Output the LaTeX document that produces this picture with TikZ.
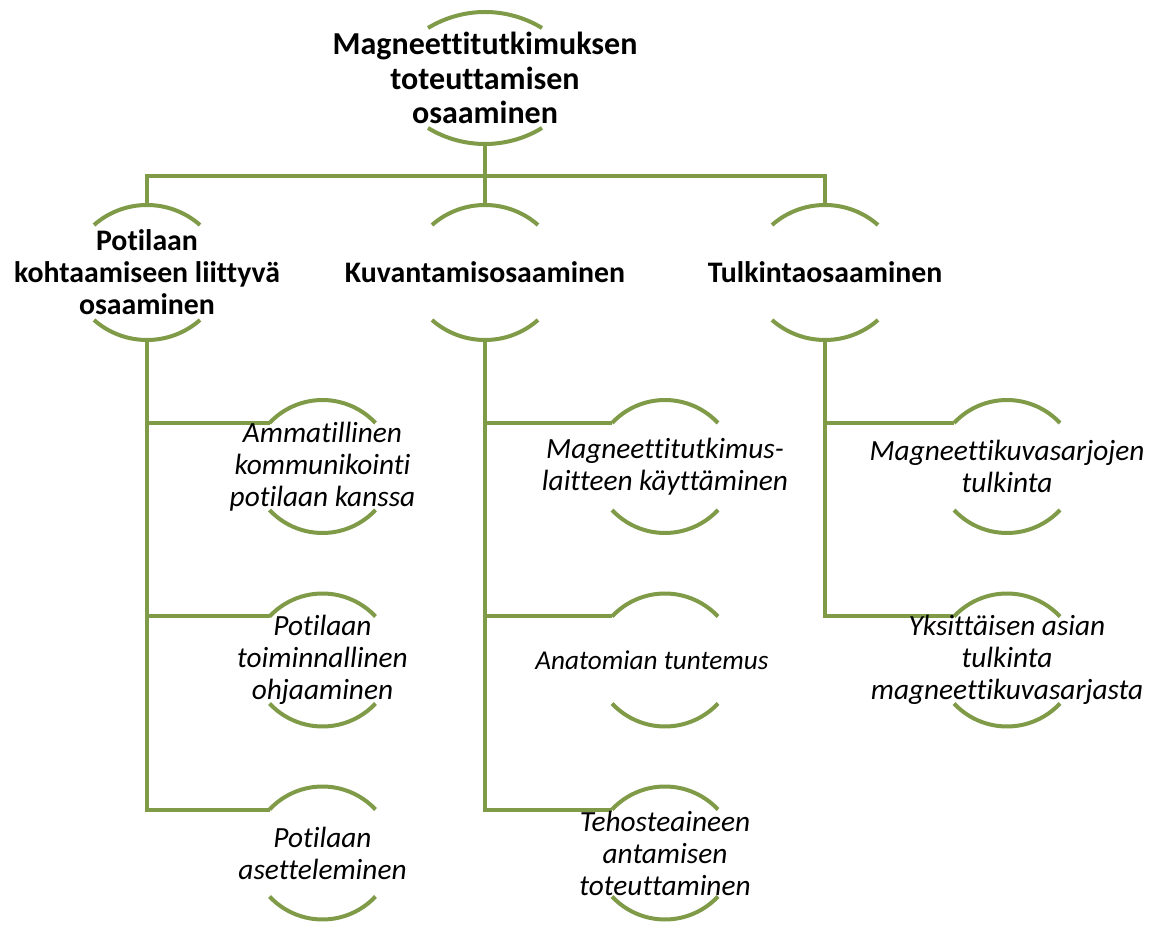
\documentclass[tikz,border=0pt]{standalone}
\usepackage{fontspec}
\setmainfont{Carlito}[Ligatures=NoCommon]
\definecolor{olive}{RGB}{127,155,72}
\tikzset{
  arcline/.style={draw=olive, line width=4pt},
  conn/.style={draw=olive, line width=4pt},
  rootbox/.style={align=center, inner sep=0pt, font=\fontsize{32}{34.5}\selectfont\bfseries},
  midbox/.style={align=center, inner sep=0pt, font=\fontsize{29.8}{32}\selectfont\bfseries},
  leafbox/.style={align=center, inner sep=0pt, font=\fontsize{29.3}{32}\selectfont\itshape},
  smallleaf/.style={align=center, inner sep=0pt, font=\fontsize{27.2}{30}\selectfont\itshape},
}
% #1 name, #2 cx, #3 cy (y up), #4 half chord, #5 apex offset, #6 sagitta
\newcommand\arcpair[6]{%
  \pgfmathsetmacro\rr{(#4*#4+#6*#6)/(2*#6)}%
  \pgfmathsetmacro\th{asin(#4/\rr)}%
  \coordinate (#1-c) at (#2,#3);
  \coordinate (#1-top) at (#2,#3+#5);
  \coordinate (#1-bot) at (#2,#3-#5);
  \coordinate (#1-tl) at (#2-#4,#3+#5-#6);
  \coordinate (#1-bl) at (#2-#4,#3-#5+#6);
  \draw[arcline] (#1-tl) arc[start angle=90+\th, end angle=90-\th, radius=\rr pt];
  \draw[arcline] (#1-bl) arc[start angle=270-\th, end angle=270+\th, radius=\rr pt];
}
\begin{document}
\begin{tikzpicture}[x=1pt,y=1pt]
\fill[white] (0,0) rectangle (1159,924);
\useasboundingbox (0,0) rectangle (1159,924);
% shapes (y up: Y = 924 - py)
\arcpair{root}{485}{846}{57}{66}{16}
\arcpair{pa}{147}{651.5}{53}{67.5}{20}
\arcpair{ku}{485}{651.5}{53}{67.5}{20}
\arcpair{tu}{825}{651.5}{53}{67.5}{20}
\arcpair{am}{322.5}{457.5}{53}{66.5}{23}
\arcpair{to}{322.5}{264}{53}{66.5}{23}
\arcpair{as}{322.5}{71}{53}{66.5}{23}
\arcpair{ma}{665}{457.5}{53}{66.5}{23}
\arcpair{an}{665}{264}{53}{66.5}{23}
\arcpair{te}{665}{71}{53}{66.5}{23}
\arcpair{mk}{1007}{457.5}{53}{66.5}{23}
\arcpair{yk}{1007}{264}{53}{66.5}{23}
% connectors
\coordinate (bar) at (485,748);
\draw[conn] (root-bot) -- (bar);
\draw[conn] (bar) -| (pa-top);
\draw[conn] (bar) -| (tu-top);
\draw[conn] (bar) -- (ku-top);
\draw[conn] (pa-bot) |- (am-tl);
\draw[conn] (pa-bot) |- (to-tl);
\draw[conn] (pa-bot) |- (as-tl);
\draw[conn] (ku-bot) |- (ma-tl);
\draw[conn] (ku-bot) |- (an-tl);
\draw[conn] (ku-bot) |- (te-tl);
\draw[conn] (tu-bot) |- (mk-tl);
\draw[conn] (tu-bot) |- (yk-tl);
% texts
\node[rootbox] (root) at (root-c) {Magneettitutkimuksen\\toteuttamisen\\osaaminen};
\node[midbox] (pa) at (pa-c) {Potilaan\\kohtaamiseen liittyvä\\osaaminen};
\node[midbox] (ku) at (ku-c) {Kuvantamisosaaminen};
\node[midbox] (tu) at (tu-c) {Tulkintaosaaminen};
\node[leafbox] (am) at (am-c) {Ammatillinen\\kommunikointi\\potilaan kanssa};
\node[leafbox] (to) at (to-c) {Potilaan\\toiminnallinen\\ohjaaminen};
\node[leafbox] (as) at (as-c) {Potilaan\\asetteleminen};
\node[leafbox] (ma) at (ma-c) {Magneettitutkimus-\\laitteen käyttäminen};
\node[smallleaf] (an) at ([xshift=-13pt]an-c) {Anatomian tuntemus};
\node[leafbox] (te) at (te-c) {Tehosteaineen\\antamisen\\toteuttaminen};
\node[leafbox] (mk) at (mk-c) {Magneettikuvasarjojen\\tulkinta};
\node[leafbox] (yk) at (yk-c) {Yksittäisen asian\\tulkinta\\magneettikuvasarjasta};
\end{tikzpicture}
\end{document}
